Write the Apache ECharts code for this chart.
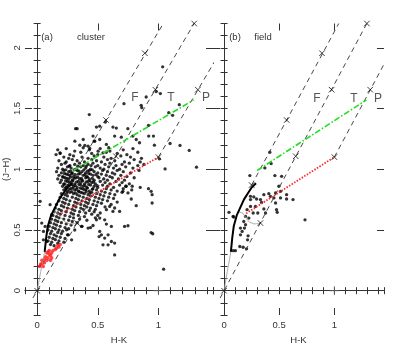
<!DOCTYPE html>
<html>
<head>
<meta charset="utf-8">
<script src="https://cdn.jsdelivr.net/npm/echarts@6/dist/echarts.min.js"></script>
<style>
  html, body { margin: 0; padding: 0; background: #fff; }
  #chart { width: 399px; height: 357px; }
</style>
</head>
<body>
<div id="chart"></div>
<script>
// axis ranges / ticks
const xRange = [-0.1, 1.45];
const yRange = [-0.2, 2.2];
const xMajor = [0, 0.5, 1];
const yMajor = [0, 0.5, 1, 1.5, 2];

// panel (a) cluster members
const clusterDense = [
  [0.17,1.16],[0.24,1.17],[0.31,1.15],[0.43,1.16],[0.52,1.17],[0.60,1.15],[0.71,1.16],[0.79,1.17],
  [0.19,1.13],[0.27,1.12],[0.36,1.14],[0.45,1.13],[0.50,1.12],[0.57,1.14],[0.66,1.13],[0.74,1.12],[0.83,1.14],
  [0.22,1.10],[0.26,1.09],[0.30,1.11],[0.37,1.10],[0.42,1.09],[0.47,1.11],[0.55,1.10],[0.61,1.09],[0.69,1.11],[0.77,1.10],[0.86,1.09],
  [0.18,1.07],[0.24,1.06],[0.29,1.08],[0.33,1.07],[0.39,1.06],[0.45,1.08],[0.49,1.07],[0.53,1.06],[0.58,1.08],[0.64,1.07],[0.72,1.06],[0.80,1.08],[0.85,1.06],
  [0.20,1.04],[0.23,1.05],[0.27,1.03],[0.31,1.04],[0.35,1.05],[0.38,1.03],[0.42,1.04],[0.46,1.05],[0.50,1.03],[0.56,1.04],[0.60,1.05],[0.65,1.03],[0.70,1.04],[0.76,1.05],[0.83,1.03],[0.88,1.04],
  [0.17,1.01],[0.21,1.00],[0.25,1.02],[0.28,1.01],[0.32,1.00],[0.36,1.02],[0.40,1.01],[0.44,1.00],[0.48,1.02],[0.52,1.01],[0.55,1.00],[0.59,1.02],[0.63,1.01],[0.68,1.00],[0.73,1.02],[0.79,1.01],
  [0.16,0.98],[0.20,0.97],[0.22,0.99],[0.26,0.98],[0.29,0.97],[0.33,0.99],[0.37,0.98],[0.40,0.97],[0.43,0.99],[0.47,0.98],[0.50,0.97],[0.54,0.99],[0.58,0.98],[0.62,0.97],[0.66,0.99],[0.71,0.98],[0.77,0.97],[0.84,0.99],
  [0.18,0.95],[0.21,0.94],[0.24,0.96],[0.27,0.95],[0.30,0.94],[0.34,0.96],[0.38,0.95],[0.41,0.94],[0.44,0.96],[0.46,0.95],[0.50,0.94],[0.53,0.96],[0.57,0.95],[0.60,0.94],[0.64,0.96],[0.69,0.95],[0.74,0.94],
  [0.17,0.92],[0.20,0.91],[0.23,0.93],[0.26,0.92],[0.29,0.91],[0.32,0.93],[0.35,0.92],[0.37,0.91],[0.40,0.93],[0.43,0.92],[0.47,0.91],[0.51,0.93],[0.55,0.92],[0.58,0.91],[0.62,0.93],[0.67,0.92],[0.72,0.91],[0.80,0.93],
  [0.19,0.89],[0.22,0.88],[0.25,0.90],[0.28,0.89],[0.31,0.88],[0.34,0.90],[0.36,0.89],[0.39,0.88],[0.42,0.90],[0.45,0.89],[0.48,0.88],[0.52,0.90],[0.56,0.89],[0.60,0.88],[0.65,0.90],[0.70,0.89],[0.76,0.88],
  [0.21,0.86],[0.24,0.85],[0.27,0.87],[0.30,0.86],[0.33,0.85],[0.36,0.87],[0.38,0.86],[0.41,0.85],[0.44,0.87],[0.47,0.86],[0.50,0.85],[0.54,0.87],[0.58,0.86],[0.63,0.85],[0.68,0.87],[0.73,0.86],[0.85,0.85],
  [0.22,0.83],[0.25,0.82],[0.28,0.84],[0.31,0.83],[0.34,0.82],[0.37,0.84],[0.40,0.83],[0.43,0.82],[0.46,0.84],[0.49,0.83],[0.53,0.82],[0.57,0.84],[0.61,0.83],[0.66,0.82],[0.71,0.84],[0.78,0.83],
  [0.20,0.80],[0.23,0.79],[0.27,0.81],[0.30,0.80],[0.33,0.79],[0.36,0.81],[0.39,0.80],[0.42,0.79],[0.45,0.81],[0.49,0.80],[0.52,0.79],[0.56,0.81],[0.60,0.80],[0.64,0.79],[0.70,0.81],
  [0.19,0.77],[0.22,0.76],[0.25,0.78],[0.29,0.77],[0.32,0.76],[0.35,0.78],[0.38,0.77],[0.41,0.76],[0.44,0.78],[0.48,0.77],[0.51,0.76],[0.55,0.78],[0.59,0.77],[0.63,0.76],
  [0.18,0.74],[0.21,0.73],[0.24,0.75],[0.27,0.74],[0.31,0.73],[0.34,0.75],[0.37,0.74],[0.40,0.73],[0.43,0.75],[0.47,0.74],[0.50,0.73],[0.54,0.75],[0.58,0.74],[0.66,0.73],
  [0.16,0.71],[0.20,0.70],[0.23,0.72],[0.26,0.71],[0.30,0.70],[0.33,0.72],[0.36,0.71],[0.39,0.70],[0.42,0.72],[0.46,0.71],[0.49,0.70],[0.53,0.72],[0.61,0.71],
  [0.15,0.68],[0.18,0.67],[0.22,0.69],[0.25,0.68],[0.29,0.67],[0.32,0.69],[0.36,0.68],[0.38,0.67],[0.41,0.69],[0.44,0.68],[0.48,0.67],[0.56,0.69],
  [0.14,0.65],[0.17,0.64],[0.20,0.66],[0.24,0.65],[0.28,0.64],[0.31,0.66],[0.35,0.65],[0.40,0.64],[0.43,0.66],[0.47,0.65],[0.52,0.64],
  [0.13,0.62],[0.16,0.61],[0.19,0.63],[0.23,0.62],[0.27,0.61],[0.30,0.63],[0.34,0.62],[0.39,0.61],[0.45,0.63],[0.50,0.62],
  [0.12,0.59],[0.15,0.58],[0.18,0.60],[0.22,0.59],[0.26,0.58],[0.30,0.60],[0.35,0.59],[0.41,0.58],[0.48,0.60],
  [0.11,0.56],[0.14,0.55],[0.17,0.57],[0.20,0.56],[0.24,0.55],[0.29,0.57],[0.33,0.56],
  [0.10,0.53],[0.13,0.52],[0.16,0.54],[0.19,0.53],[0.23,0.52],[0.28,0.54],[0.37,0.53],[0.44,0.52],
  [0.09,0.50],[0.12,0.49],[0.15,0.51],[0.18,0.50],[0.21,0.49],[0.26,0.51],[0.31,0.50],
  [0.11,0.47],[0.14,0.46],[0.17,0.48],[0.20,0.47],[0.25,0.46],
  [0.10,0.44],[0.13,0.43],[0.16,0.45],[0.19,0.44],[0.23,0.43],
  [0.09,0.41],[0.12,0.40],[0.15,0.42],[0.18,0.41],[0.22,0.40],
  [0.11,0.38],[0.14,0.37],[0.17,0.39]
];
// the near-solid core of the cluster
const clusterCore = [
  [0.235,0.995],[0.275,0.985],[0.305,0.995],[0.345,0.985],[0.385,0.995],[0.415,0.985],[0.455,0.995],
  [0.225,0.965],[0.255,0.955],[0.285,0.965],[0.315,0.955],[0.355,0.965],[0.395,0.955],[0.425,0.965],[0.485,0.955],
  [0.215,0.935],[0.245,0.925],[0.275,0.935],[0.305,0.925],[0.335,0.935],[0.365,0.925],[0.415,0.935],[0.455,0.925],
  [0.235,0.905],[0.265,0.895],[0.295,0.905],[0.325,0.895],[0.375,0.905],[0.405,0.895],[0.435,0.905],[0.465,0.895],
  [0.225,0.875],[0.255,0.865],[0.285,0.875],[0.315,0.865],[0.345,0.875],[0.395,0.865],[0.425,0.875],[0.495,0.865],
  [0.235,0.845],[0.265,0.835],[0.295,0.845],[0.325,0.835],[0.355,0.845],[0.385,0.835],[0.415,0.845],[0.455,0.835],
  [0.245,0.805],[0.285,0.815],[0.315,0.805],[0.345,0.815],[0.375,0.805],[0.405,0.815],[0.435,0.805],
  [0.265,1.025],[0.335,1.025],[0.405,1.025],[0.445,1.03]
];
const clusterSparse = [
  [0.43,1.45],[0.317,1.334],[0.33,1.334],[0.716,1.54],[1.035,1.843],[0.899,1.595],[0.858,1.526],[0.863,1.507],
  [0.981,1.64],[1.016,1.623],[1.085,1.466],[1.117,1.444],[1.172,1.532],[0.918,1.361],[0.959,1.273],[0.967,1.198],
  [1.096,1.212],[1.178,1.196],[1.254,1.155],[1.314,1.017],[1.055,1.003],[1.008,1.086],[0.625,1.347],[0.653,1.339],
  [0.748,1.334],[0.489,1.347],[0.516,1.355],[0.563,1.389],[0.461,1.273],[0.475,1.231],[0.38,1.245],[0.393,1.196],
  [0.352,1.198],[0.694,1.264],[0.639,1.273],[0.789,1.273],[0.817,1.245],[0.844,1.218],[0.92,1.273],[0.156,1.121],
  [0.189,1.135],[0.311,1.231],[0.47,1.231],[0.516,1.245],[0.42,1.19],[0.38,1.177],[0.434,1.171],[0.571,1.204],
  [0.59,1.177],[0.503,1.149],[0.543,1.135],
  [0.918,0.84],[0.94,0.818],[0.948,0.791],[0.948,0.722],[0.94,0.479],[0.953,0.469],[1.043,0.177],[0.817,0.7],
  [0.776,0.755],[0.784,0.86],[0.735,0.86],[0.749,0.805],[0.707,0.818],[0.721,0.529],[0.749,0.535],[0.639,0.295],
  [0.543,0.378],[0.585,0.378],[0.612,0.405],[0.639,0.392],[0.516,0.488],[0.53,0.46],[0.557,0.433],[0.511,0.446],
  [0.571,0.667],[0.598,0.694],[0.625,0.653],[0.639,0.681],[0.68,0.653],[0.557,0.584],[0.571,0.549],[0.585,0.46],
  [0.612,0.529],[0.489,0.584],[0.516,0.598],[0.366,0.529],[0.42,0.516],[0.461,0.537],[0.243,0.502],[0.257,0.46],
  [0.284,0.419],
  [0.025,0.736],[0.107,0.708],[0.12,0.626],[0.038,0.557],[0.052,0.488],[0.052,0.419],[0.079,0.405],[0.066,0.529]
];
const clusterRed = [
  [0.02,0.20],[0.03,0.21],[0.04,0.22],[0.05,0.20],[0.06,0.23],[0.04,0.25],[0.06,0.26],[0.08,0.25],
  [0.07,0.28],[0.09,0.27],[0.10,0.30],[0.08,0.31],[0.11,0.29],[0.12,0.31],[0.10,0.33],[0.13,0.33],
  [0.12,0.27],[0.05,0.24],[0.03,0.22],[0.09,0.32],[0.16,0.35],[0.17,0.37],[0.18,0.36],[0.19,0.38],
  [0.15,0.34],[0.11,0.25]
];

// panel (b) field stars
const fieldDots = [
  [0.234,0.948],[0.37,1.011],[0.427,1.047],[0.415,1.14],[0.461,0.948],[0.522,0.942],[0.045,0.645],[0.082,0.612],
  [0.24,0.777],[0.27,0.772],[0.24,0.75],[0.295,0.755],[0.361,0.791],[0.406,0.799],[0.467,0.805],[0.497,0.86],
  [0.512,0.818],[0.421,0.777],[0.452,0.764],[0.33,0.75],[0.34,0.727],[0.512,0.764],[0.567,0.755],[0.625,0.75],
  [0.467,0.722],[0.476,0.667],[0.482,0.645],[0.24,0.694],[0.285,0.694],[0.209,0.667],[0.264,0.64],[0.306,0.64],
  [0.088,0.607],[0.195,0.612],[0.225,0.598],[0.179,0.57],[0.361,0.673],[0.376,0.64],[0.149,0.516],[0.185,0.516],
  [0.195,0.543],[0.164,0.488],[0.149,0.46],[0.218,0.452],[0.213,0.419],[0.143,0.364],[0.173,0.358],[0.204,0.345],
  [0.082,0.33],[0.103,0.33],[0.567,0.791],[0.734,0.584]
];

// loci and reddening vectors (same in both panels)
const earlyLocus = [[0,0],[0.03,0.16],[0.062,0.32]];
const giantLocus = [[0.062,0.32],[0.075,0.44],[0.088,0.53],[0.115,0.62],[0.15,0.69],[0.18,0.75],[0.215,0.80],[0.25,0.85],[0.29,0.885]];
const dwarfLocus = [[0.13,0.65],[0.17,0.64],[0.20,0.595],[0.23,0.565],[0.27,0.55],[0.31,0.552],[0.33,0.557]];
const redF = [[0.25,0.87],[1.04,2.2]];
const redT = [[-0.035,-0.06],[1.3,2.21]];
const redP = [[1.0,1.1],[1.5,1.95]];
const avMarks = [[0.25,0.87],[0.568,1.405],[0.888,1.955],[0,0],[0.33,0.557],[0.65,1.107],[0.975,1.655],[1.295,2.2],[1.0,1.1],[1.325,1.655]];
const cttsLocus = [[0.2,0.636],[1.0,1.1]];
const greenLocus = [[0.3,0.99],[1.29,1.57]];
const errCross = [[1,0]];

const FONT = 'Liberation Sans, Arial, sans-serif';
const AX = '#333';
const panels = [
  { left: 25, top: 23.5, width: 188, height: 291.5 },
  { left: 213, top: 23.5, width: 171, height: 291.5 }
];

function fmt(list) {
  return function (v) {
    const r = Math.round(v * 10) / 10;
    return list.indexOf(r) >= 0 ? String(r) : '';
  };
}

const grids = [], xAxes = [], yAxes = [];
const hidden = function (gi) { return { type: 'value', gridIndex: gi, show: false, min: 0, max: 1 }; };
function minor(gi, pos, rng, extra) {
  return Object.assign({
    type: 'value', gridIndex: gi, position: pos, min: rng[0], max: rng[1], interval: 0.1,
    splitLine: { show: false },
    axisLine: { lineStyle: { color: AX, width: 1 } },
    axisTick: { inside: true, length: 3.5, lineStyle: { color: AX } },
    axisLabel: { show: false }
  }, extra || {});
}
function major(gi, pos, lo, hi) {
  return {
    type: 'value', gridIndex: gi, position: pos, min: lo, max: hi, interval: 0.5,
    splitLine: { show: false }, axisLine: { show: false },
    axisTick: { inside: true, length: 7, lineStyle: { color: AX } },
    axisLabel: { show: false }
  };
}

// main panels: grid 0 and 1
panels.forEach(function (p, gi) {
  grids.push(p);
  xAxes.push(minor(gi, 'bottom', xRange, {
    axisLabel: { show: true, formatter: fmt(xMajor), margin: 5, fontSize: 9.5, fontFamily: FONT, color: '#333' },
    name: 'H-K', nameLocation: 'middle', nameGap: 20,
    nameTextStyle: { fontSize: 9.5, fontFamily: FONT, color: '#333' }
  }));
  xAxes.push(minor(gi, 'top', xRange));
  yAxes.push(minor(gi, 'left', yRange, {
    axisLabel: { show: gi === 0, rotate: 90, formatter: fmt(yMajor), margin: 3, fontSize: 9.5, fontFamily: FONT, color: '#333' },
    name: gi === 0 ? '(J\u2212H)' : '', nameLocation: 'middle', nameGap: 12, nameRotate: 90,
    nameTextStyle: { fontSize: 9.5, fontFamily: FONT, color: '#333' }
  }));
  yAxes.push(minor(gi, 'right', yRange));
});

// major ticks: extra grids spanning exactly the labelled range
panels.forEach(function (p) {
  const xs = p.width / (xRange[1] - xRange[0]);
  const ys = p.height / (yRange[1] - yRange[0]);
  const xLo = xMajor[0], xHi = xMajor[xMajor.length - 1];
  const yLo = yMajor[0], yHi = yMajor[yMajor.length - 1];
  let gi = grids.length;
  grids.push({ left: p.left + (xLo - xRange[0]) * xs, width: (xHi - xLo) * xs, top: p.top, height: p.height });
  xAxes.push(major(gi, 'bottom', xLo, xHi));
  xAxes.push(major(gi, 'top', xLo, xHi));
  yAxes.push(hidden(gi));
  gi = grids.length;
  grids.push({ left: p.left, width: p.width, top: p.top + (yRange[1] - yHi) * ys, height: (yHi - yLo) * ys });
  xAxes.push(hidden(gi));
  yAxes.push(major(gi, 'left', yLo, yHi));
  yAxes.push(major(gi, 'right', yLo, yHi));
});

function dots(gi, data, color, size) {
  return { type: 'scatter', xAxisIndex: gi * 2, yAxisIndex: gi * 2, data: data, symbolSize: size,
    itemStyle: { color: color }, silent: true, z: 2 };
}
function line(gi, data, style, z) {
  return { type: 'line', xAxisIndex: gi * 2, yAxisIndex: gi * 2, data: data, showSymbol: false,
    lineStyle: style, silent: true, z: z || 3 };
}
function marks(gi, data, path, size, color) {
  return { type: 'scatter', xAxisIndex: gi * 2, yAxisIndex: gi * 2, data: data, symbol: path, symbolSize: size,
    itemStyle: { color: 'none', borderColor: color, borderWidth: 1 }, silent: true, z: 5 };
}

const series = [
  dots(0, clusterDense, '#000', 3.3),
  dots(0, clusterCore, '#000', 3.3),
  dots(0, clusterSparse, '#000', 3.3),
  dots(0, clusterRed, '#ff1a1a', 3.6),
  dots(1, fieldDots, '#000', 3.3)
];
[0, 1].forEach(function (gi) {
  series.push(line(gi, earlyLocus, { color: '#999', width: 0.8 }));
  series.push(line(gi, dwarfLocus, { color: '#999', width: 0.8 }));
  series.push(line(gi, giantLocus, { color: '#000', width: 2 }, 4));
  series.push(line(gi, redF, { color: '#333', width: 0.9, type: [5, 4] }));
  series.push(line(gi, redT, { color: '#333', width: 0.9, type: [5, 4] }));
  series.push(line(gi, redP, { color: '#333', width: 0.9, type: [5, 4] }));
  series.push(line(gi, cttsLocus, { color: '#ff2a2a', width: 1.8, type: [1.5, 1.5] }, 4));
  series.push(line(gi, greenLocus, { color: '#22dd22', width: 1.6, type: [6, 2, 1.5, 2] }, 4));
  series.push(marks(gi, avMarks, 'path://M0,0L10,10M10,0L0,10', 5.5, '#111'));
  series.push(marks(gi, errCross, 'path://M5,0L5,10M0,5L10,5', 9, '#666'));
});

function txt(t, x, y, size, color) {
  return { type: 'text', silent: true, z: 10,
    style: { text: t, x: x, y: y, align: 'center', verticalAlign: 'middle',
      fontSize: size, fontFamily: FONT, fill: color } };
}

const chart = echarts.init(document.getElementById('chart'));
chart.setOption({
  animation: false,
  backgroundColor: '#fff',
  grid: grids,
  xAxis: xAxes,
  yAxis: yAxes,
  series: series,
  graphic: [
    txt('(a)', 47, 37, 9.5, '#333'),
    txt('cluster', 91, 37, 9.5, '#333'),
    txt('(b)', 235, 37, 9.5, '#333'),
    txt('field', 263, 37, 9.5, '#333'),
    txt('F', 135, 98, 12, '#555'),
    txt('T', 171, 98, 12, '#555'),
    txt('P', 206, 98, 12, '#555'),
    txt('F', 317, 99, 12, '#555'),
    txt('T', 354, 99, 12, '#555'),
    txt('P', 378, 99, 12, '#555')
  ]
});
</script>
</body>
</html>
